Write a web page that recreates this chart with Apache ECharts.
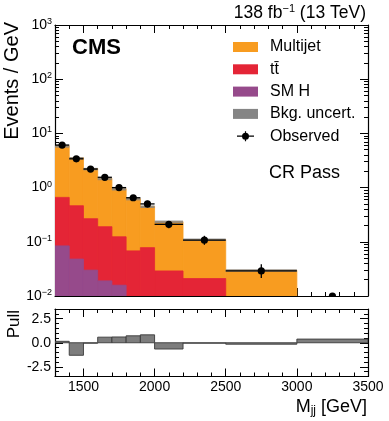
<!DOCTYPE html>
<html>
<head>
<meta charset="utf-8">
<script src="https://cdn.jsdelivr.net/npm/echarts@6/dist/echarts.min.js"></script>
<style>
  html, body { margin: 0; padding: 0; background: #fff; }
  #chart { width: 389px; height: 421px; }
</style>
</head>
<body>
<div id="chart"></div>
<script>
// bins in M_jj (GeV)
const binLo = [1300, 1400, 1500, 1600, 1700, 1800, 1900, 2000, 2200, 2500, 3000];
const binHi = [1400, 1500, 1600, 1700, 1800, 1900, 2000, 2200, 2500, 3000, 3500];

// events / GeV per process
const multijet = [5.24, 3.10, 1.98, 1.29, 0.831, 0.557, 0.372, 0.206, 0.089, 0.0248, 0];
const ttbar = [0.576, 0.415, 0.237, 0.171, 0.108, 0.060, 0.072, 0.025, 0.019, 0.004, 0];
const smH = [0.084, 0.048, 0.030, 0.019, 0.0158, 0.008, 0.006, 0.004, 0.002, 0.001, 0];
const bkgUnc = [0.03, 0.03, 0.03, 0.03, 0.03, 0.035, 0.04, 0.05, 0.05, 0.05, 0]; // relative

const observed = [6.1, 3.4, 2.2, 1.55, 1.0, 0.65, 0.50, 0.21, 0.107, 0.029, 0];
const obsErrUp = [0.25, 0.19, 0.15, 0.13, 0.10, 0.082, 0.072, 0.033, 0.022, 0.0095, 0.0064];
const obsErrDn = [0.25, 0.18, 0.15, 0.12, 0.10, 0.080, 0.070, 0.032, 0.019, 0.0075, 0];

const pull = [0.15, -1.3, -0.05, 0.58, 0.6, 0.72, 0.82, -0.65, -0.05, -0.15, 0.38];

const xMajor = [1500, 2000, 2500, 3000, 3500];
const yMajor = [0.01, 0.1, 1, 10, 100, 1000];
const pullMajor = [-2.5, 0, 2.5];

const yMin = 0.01, yMax = 1000;
const yMinor = [];
for (let e = -2; e < 3; e++) {
    for (let m = 2; m <= 9; m++) yMinor.push(+(m * Math.pow(10, e)).toPrecision(3));
}

const FONT = "'Liberation Sans', Arial, Helvetica, sans-serif";
const COLORS = { multijet: '#f89c20', ttbar: '#e42536', smH: '#964a8b', unc: '#858585', obs: '#000' };

const stackTop = (i, level) => {
    let v = smH[i];
    if (level >= 1) v += ttbar[i];
    if (level >= 2) v += multijet[i];
    return v;
};

const histData = level => binLo.map((lo, i) => [lo, binHi[i], stackTop(i, level)]);

const histRender = color => (params, api) => {
    const top = api.value(2);
    if (!(top > yMin)) return null;
    const p0 = api.coord([api.value(0), top]);
    const p1 = api.coord([api.value(1), yMin]);
    return {
        type: 'rect',
        shape: { x: p0[0], y: p0[1], width: p1[0] - p0[0], height: p1[1] - p0[1] },
        style: { fill: color, stroke: color, lineWidth: 0.8 }
    };
};

const chart = echarts.init(document.getElementById('chart'), null, { renderer: 'canvas' });

const lineStyle = { color: '#000', width: 1 };
const xAxisFor = (gridIndex, position, major, withLabels) => ({
    type: 'value', gridIndex, position, min: 1300, max: 3500,
    interval: 100,
    axisLine: { show: !major, onZero: false, lineStyle: { color: '#000', width: 1.2 } },
    axisTick: major
        ? { show: true, inside: true, length: 8, customValues: xMajor, lineStyle }
        : { show: true, inside: true, length: 4, lineStyle },
    axisLabel: withLabels
        ? { show: true, customValues: xMajor, color: '#000', fontSize: 14, fontFamily: FONT, margin: 4, formatter: v => String(v) }
        : { show: false },
    splitLine: { show: false }
});

const logAxis = (position, major, withLabels) => ({
    type: 'log', logBase: 10, gridIndex: 0, position, min: yMin, max: yMax,
    axisLine: { show: !major, onZero: false, lineStyle: { color: '#000', width: 1.2 } },
    axisTick: { show: true, inside: true, length: major ? 8 : 4, customValues: major ? yMajor : yMinor, lineStyle },
    axisLabel: withLabels ? {
        show: true, customValues: yMajor, margin: 3, fontFamily: FONT,
        formatter: v => '{b|10}{s|' + Math.round(Math.log10(v)).toString().replace('-', '\u2212') + '}',
        rich: {
            b: { fontSize: 14, color: '#000', fontFamily: FONT, lineHeight: 16 },
            s: { fontSize: 9, color: '#000', fontFamily: FONT, verticalAlign: 'top', lineHeight: 9 }
        }
    } : { show: false },
    splitLine: { show: false }
});

const pullAxis = (position, major, withLabels) => ({
    type: 'value', gridIndex: 1, position, min: -3.5, max: 3.5, interval: 0.5,
    axisLine: { show: !major, onZero: false, lineStyle: { color: '#000', width: 1.2 } },
    axisTick: major
        ? { show: true, inside: true, length: 8, customValues: pullMajor, lineStyle }
        : { show: true, inside: true, length: 4, lineStyle },
    axisLabel: withLabels ? {
        show: true, customValues: pullMajor, color: '#000', fontSize: 14, fontFamily: FONT, margin: 4,
        formatter: v => v.toFixed(1)
    } : { show: false },
    splitLine: { show: false }
});

// dot with error-bar stubs, laid out in a 25x10 box
const obsIcon = 'path://M0,0M25,10M4,4.4H9.2V5.6H4Z M15.8,4.4H21V5.6H15.8Z M11.9,0H13.1V1.6H11.9Z M11.9,8.4H13.1V10H11.9Z M9,5a3.5,3.5 0 1,1 7,0a3.5,3.5 0 1,1 -7,0Z';

chart.setOption({
    animation: false,
    backgroundColor: '#fff',
    textStyle: { fontFamily: FONT },
    grid: [
        { left: 55, top: 25, width: 313, height: 271 },
        { left: 55, top: 309, width: 313, height: 67.5 }
    ],
    xAxis: [
        xAxisFor(0, 'bottom', false, false),
        xAxisFor(0, 'bottom', true, false),
        xAxisFor(0, 'top', false, false),
        xAxisFor(0, 'top', true, false),
        xAxisFor(1, 'bottom', false, false),
        xAxisFor(1, 'bottom', true, true),
        xAxisFor(1, 'top', false, false),
        xAxisFor(1, 'top', true, false)
    ],
    yAxis: [
        logAxis('left', true, true),
        logAxis('left', false, false),
        logAxis('right', true, false),
        logAxis('right', false, false),
        pullAxis('left', true, true),
        pullAxis('left', false, false),
        pullAxis('right', true, false),
        pullAxis('right', false, false)
    ],
    legend: {
        orient: 'vertical', left: 233, top: 39, padding: 0,
        itemWidth: 25, itemHeight: 10, itemGap: 6.3,
        selectedMode: false,
        textStyle: { fontSize: 16, color: '#000', fontFamily: FONT, lineHeight: 16, padding: [0, 0, 0, 7] },
        data: [
            { name: 'Multijet', icon: 'rect' },
            { name: 'tt\u0304', icon: 'rect' },
            { name: 'SM H', icon: 'rect' },
            { name: 'Bkg. uncert.', icon: 'rect' },
            { name: 'Observed', icon: obsIcon }
        ]
    },
    graphic: [
        {
            type: 'text', x: 12, y: 22, rotation: Math.PI / 2,
            style: { text: 'Events / GeV', font: '20px ' + FONT, fill: '#000', textAlign: 'right', textVerticalAlign: 'middle' }
        },
        {
            type: 'text', x: 14, y: 310, rotation: Math.PI / 2,
            style: { text: 'Pull', font: '17px ' + FONT, fill: '#000', textAlign: 'right', textVerticalAlign: 'middle' }
        },
        {
            type: 'text', x: 72, y: 48,
            style: { text: 'CMS', font: 'bold 22px ' + FONT, fill: '#000', textAlign: 'left', textVerticalAlign: 'middle' }
        },
        {
            type: 'text', x: 269, y: 173,
            style: { text: 'CR Pass', font: '18px ' + FONT, fill: '#000', textAlign: 'left', textVerticalAlign: 'middle' }
        },
        {
            type: 'text', x: 366, y: 13,
            style: {
                text: '{n|138 fb}{s|\u22121}{n| (13 TeV)}', textAlign: 'right', textVerticalAlign: 'middle',
                rich: {
                    n: { fontSize: 17.5, fontFamily: FONT, fill: '#000', lineHeight: 19 },
                    s: { fontSize: 11, fontFamily: FONT, fill: '#000', lineHeight: 11, verticalAlign: 'top' }
                }
            }
        },
        {
            type: 'text', x: 367, y: 407,
            style: {
                text: '{n|M}{s|jj}{n| [GeV]}', textAlign: 'right', textVerticalAlign: 'middle',
                rich: {
                    n: { fontSize: 18, fontFamily: FONT, fill: '#000', lineHeight: 20 },
                    s: { fontSize: 12, fontFamily: FONT, fill: '#000', lineHeight: 12, verticalAlign: 'bottom' }
                }
            }
        }
    ],
    series: [
        {
            name: 'Multijet', type: 'custom', xAxisIndex: 0, yAxisIndex: 0, clip: true,
            itemStyle: { color: COLORS.multijet },
            encode: { x: [0, 1], y: 2 },
            data: histData(2), renderItem: histRender(COLORS.multijet)
        },
        {
            name: 'tt\u0304', type: 'custom', xAxisIndex: 0, yAxisIndex: 0, clip: true,
            itemStyle: { color: COLORS.ttbar },
            encode: { x: [0, 1], y: 2 },
            data: histData(1), renderItem: histRender(COLORS.ttbar)
        },
        {
            name: 'SM H', type: 'custom', xAxisIndex: 0, yAxisIndex: 0, clip: true,
            itemStyle: { color: COLORS.smH },
            encode: { x: [0, 1], y: 2 },
            data: histData(0), renderItem: histRender(COLORS.smH)
        },
        {
            name: 'Bkg. uncert.', type: 'custom', xAxisIndex: 0, yAxisIndex: 0, clip: true,
            itemStyle: { color: COLORS.unc },
            encode: { x: [0, 1], y: [2, 3] },
            data: binLo.map((lo, i) => {
                const t = stackTop(i, 2);
                return [lo, binHi[i], t * (1 - bkgUnc[i]) || yMin, t * (1 + bkgUnc[i]) || yMin];
            }),
            renderItem: (params, api) => {
                const lo = api.value(2), hi = api.value(3);
                if (!(hi > yMin)) return null;
                const p0 = api.coord([api.value(0), hi]);
                const p1 = api.coord([api.value(1), lo]);
                return {
                    type: 'rect',
                    shape: { x: p0[0], y: p0[1], width: p1[0] - p0[0], height: Math.max(p1[1] - p0[1], 2.5) },
                    style: { fill: COLORS.unc, opacity: 0.8 }
                };
            }
        },
        {
            name: 'Observed', type: 'custom', xAxisIndex: 0, yAxisIndex: 0, clip: true,
            itemStyle: { color: COLORS.obs },
            encode: { x: [0, 1], y: 2 },
            data: binLo.map((lo, i) => [lo, binHi[i], observed[i] > 0 ? observed[i] : yMin, obsErrUp[i], obsErrDn[i], observed[i]]),
            renderItem: (params, api) => {
                const lo = api.value(0), hi = api.value(1), y = api.value(2);
                const raw = api.value(5);
                const xc = (lo + hi) / 2;
                const c = api.coord([xc, y]);
                const up = api.coord([xc, (raw > 0 ? raw : 0) + api.value(3)]);
                const dnVal = raw - api.value(4);
                const dn = api.coord([xc, dnVal > yMin ? dnVal : yMin]);
                const children = [
                    { type: 'line', shape: { x1: c[0], y1: up[1], x2: c[0], y2: dn[1] }, style: { stroke: '#000', lineWidth: 1.3 } },
                    { type: 'circle', shape: { cx: c[0], cy: c[1], r: 3.6 }, style: { fill: '#000' } }
                ];
                if (raw > 0) {
                    const a = api.coord([lo, y]), b = api.coord([hi, y]);
                    children.unshift({ type: 'line', shape: { x1: a[0], y1: a[1], x2: b[0], y2: b[1] }, style: { stroke: '#000', lineWidth: 1.3 } });
                }
                return { type: 'group', children };
            }
        },
        {
            name: 'Pull', type: 'custom', xAxisIndex: 4, yAxisIndex: 4, clip: true,
            itemStyle: { color: '#7d7d7d' },
            encode: { x: [0, 1], y: 2 },
            data: binLo.map((lo, i) => [lo, binHi[i], pull[i]]),
            renderItem: (params, api) => {
                const v = api.value(2);
                const p0 = api.coord([api.value(0), Math.max(v, 0)]);
                const p1 = api.coord([api.value(1), Math.min(v, 0)]);
                return {
                    type: 'rect',
                    shape: { x: p0[0], y: p0[1], width: p1[0] - p0[0], height: p1[1] - p0[1] },
                    style: { fill: '#7d7d7d', stroke: '#3a3a3a', lineWidth: 0.9 }
                };
            }
        }
    ]
});
</script>
</body>
</html>
